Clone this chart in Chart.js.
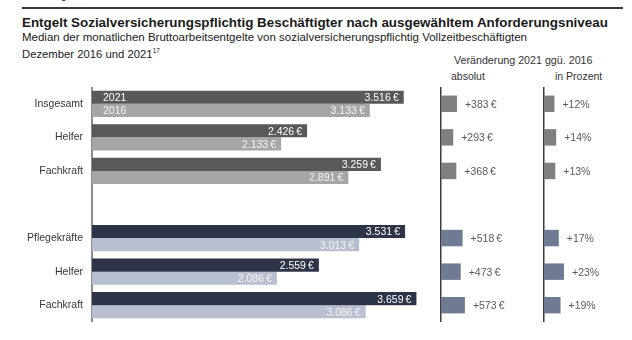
<!DOCTYPE html>
<html lang="de">
<head>
  <meta charset="UTF-8">
  <title>Entgelt nach Anforderungsniveau</title>
  <style>
    body {
      margin: 0;
      font-family: "Liberation Sans", Arial, sans-serif;
      background: #fff;
      color: #1a1a1a;
    }
    .page {
      position: relative;
      width: 632px;
      height: 340px;
      overflow: hidden;
    }
    .txt { position: absolute; white-space: nowrap; }
    .kopf { left: 22px; top: -9px; font-size: 9px; font-weight: bold; color: #444; }
    .linie { position: absolute; left: 22px; top: 7px; width: 601px; height: 2px; background: #3a3a3a; }
    h1 { position: absolute; left: 22px; top: 15px; margin: 0; font-size: 13.4px; font-weight: bold; }
    .sub { left: 22px; top: 31px; font-size: 11.5px; }
    .datum { left: 22px; top: 47px; font-size: 11.3px; }
    .datum sup { font-size: 6.5px; }
    .veraend { left: 454px; top: 54px; font-size: 10.7px; color: #333; }
    .abs { left: 451px; top: 70px; font-size: 10.5px; color: #333; }
    .proz { left: 555px; top: 70px; font-size: 10.5px; color: #333; }
    .box { position: absolute; top: 87px; height: 235px; }
  </style>
</head>
<body>
<div class="page">
  <div class="txt kopf">Abbildung 1</div>
  <div class="linie"></div>
  <h1>Entgelt Sozialversicherungspflichtig Beschäftigter nach ausgewähltem Anforderungsniveau</h1>
  <div class="txt sub">Median der monatlichen Bruttoarbeitsentgelte von sozialversicherungspflichtig Vollzeitbeschäftigten</div>
  <div class="txt datum">Dezember 2016 und 2021<sup>17</sup></div>
  <div class="txt veraend">Veränderung 2021 ggü. 2016</div>
  <div class="txt abs">absolut</div>
  <div class="txt proz">in Prozent</div>

  <div class="box" style="left:0; width:440px;"><canvas id="entgelt"></canvas></div>
  <div class="box" style="left:440px; width:101px;"><canvas id="absolut"></canvas></div>
  <div class="box" style="left:543px; width:81px;"><canvas id="prozent"></canvas></div>
</div>

<script src="https://cdn.jsdelivr.net/npm/chart.js"></script>
<script>
  // Kategorien (leerer Eintrag = Abstand zwischen den Gruppen)
  var kategorien = ['Insgesamt', 'Helfer', 'Fachkraft', '', 'Pflegekräfte', 'Helfer', 'Fachkraft'];
  var jahre = ['2021', '2016'];
  var entgelt2021 = [3516, 2426, 3259, null, 3531, 2559, 3659];
  var entgelt2016 = [3133, 2133, 2891, null, 3013, 2086, 3086];
  var diffAbsolut = [383, 293, 368, null, 518, 473, 573];
  var diffProzent = [12, 14, 13, null, 17, 23, 19];

  // Farben: oben alle Beschäftigten (grau), unten Pflegekräfte (blau)
  var dunkel = ['#595959', '#595959', '#595959', null, '#2d3448', '#2d3448', '#2d3448'];
  var hell = ['#a6a6a6', '#a6a6a6', '#a6a6a6', null, '#b8bfd0', '#b8bfd0', '#b8bfd0'];
  var mittel = ['#7f7f7f', '#7f7f7f', '#7f7f7f', null, '#6f7a93', '#6f7a93', '#6f7a93'];

  var schrift = '"Liberation Sans", Arial, sans-serif';

  function euro(v) {
    return String(v).replace(/\B(?=(\d{3})+(?!\d))/g, '.') + '\u2009€';
  }

  Chart.defaults.font.family = schrift;
  Chart.defaults.animation = false;
  Chart.defaults.events = [];
  Chart.defaults.maintainAspectRatio = false;
  Chart.defaults.plugins.legend.display = false;
  Chart.defaults.plugins.tooltip.enabled = false;

  // feste Breite der y-Achse, kein Zusatzabstand oben/unten
  function festeAchse(breite) {
    return function(s) {
      s.width = breite;
      s.paddingTop = 0;
      s.paddingBottom = 0;
    };
  }

  // Werte in die Balken schreiben, Jahreszahlen in die ersten Balken
  var balkenText = {
    id: 'balkenText',
    afterDatasetsDraw: function(chart) {
      var ctx = chart.ctx;
      ctx.save();
      ctx.font = '10.5px ' + schrift;
      ctx.textBaseline = 'middle';
      chart.data.datasets.forEach(function(ds, i) {
        chart.getDatasetMeta(i).data.forEach(function(bar, j) {
          if (ds.data[j] == null) return;
          ctx.fillStyle = i === 0 ? '#ffffff' : '#f4f4f4';
          ctx.textAlign = 'right';
          ctx.fillText(euro(ds.data[j]), bar.x - 5, bar.y + 1);
          if (j === 0) {
            ctx.textAlign = 'left';
            ctx.fillText(ds.label, chart.chartArea.left + 11, bar.y + 1);
          }
        });
      });
      ctx.restore();
    }
  };

  // Veränderungswerte rechts neben die Balken
  var diffText = {
    id: 'diffText',
    afterDatasetsDraw: function(chart, args, opts) {
      var ctx = chart.ctx;
      var ds = chart.data.datasets[0];
      ctx.save();
      ctx.font = '10.5px ' + schrift;
      ctx.textBaseline = 'middle';
      ctx.textAlign = 'left';
      ctx.fillStyle = '#5a5a5a';
      chart.getDatasetMeta(0).data.forEach(function(bar, j) {
        if (ds.data[j] == null) return;
        ctx.fillText(opts.format(ds.data[j]), bar.x + 8, bar.y + 1);
      });
      ctx.restore();
    }
  };

  new Chart(document.getElementById('entgelt'), {
    type: 'bar',
    data: {
      labels: kategorien,
      datasets: [
        { label: jahre[0], data: entgelt2021, backgroundColor: dunkel },
        { label: jahre[1], data: entgelt2016, backgroundColor: hell }
      ]
    },
    options: {
      indexAxis: 'y',
      layout: { padding: 0 },
      categoryPercentage: 0.78,
      barPercentage: 1,
      scales: {
        x: { display: false, min: 0, max: 3925 },
        y: {
          afterFit: festeAchse(92),
          grid: { display: false, drawTicks: false },
          border: { color: '#8c8c8c', width: 2 },
          ticks: { color: '#363636', padding: 9, font: { size: 10.5 } }
        }
      }
    },
    plugins: [balkenText]
  });

  function diffChart(id, werte, max, format) {
    return new Chart(document.getElementById(id), {
      type: 'bar',
      data: {
        labels: kategorien,
        datasets: [{ data: werte, backgroundColor: mittel }]
      },
      options: {
        indexAxis: 'y',
        layout: { padding: 0 },
        categoryPercentage: 1,
        barPercentage: 0.49,
        scales: {
          x: { display: false, min: 0, max: max },
          y: {
            afterFit: festeAchse(1),
            grid: { display: false, drawTicks: false },
            border: { color: '#3c3c3c', width: 1.5 },
            ticks: { display: false }
          }
        },
        plugins: { diffText: { format: format } }
      },
      plugins: [diffText]
    });
  }

  diffChart('absolut', diffAbsolut, 2400, function(v) { return '+' + euro(v); });
  diffChart('prozent', diffProzent, 92, function(v) { return '+' + v + '%'; });
</script>
</body>
</html>
